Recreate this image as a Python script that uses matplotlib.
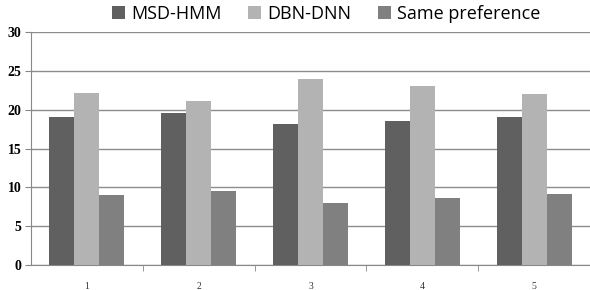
import matplotlib.pyplot as plt
import numpy as np

groups = ['1', '2', '3', '4', '5']
msd_hmm = [19.0, 19.6, 18.1, 18.5, 19.0]
dbn_dnn = [22.1, 21.1, 24.0, 23.0, 22.0]
same_pref = [9.0, 9.5, 8.0, 8.6, 9.2]

fig = plt.figure(figsize=(5.9, 2.9), dpi=100)
ax = fig.add_axes([31 / 590, 25 / 290, 559 / 590, 233 / 290])

x = np.arange(len(groups))
w = 0.224
ax.bar(x - w, msd_hmm, w, color='#606060', label='MSD-HMM', zorder=3)
ax.bar(x, dbn_dnn, w, color='#b3b3b3', label='DBN-DNN', zorder=3)
ax.bar(x + w, same_pref, w, color='#808080', label='Same preference', zorder=3)

ax.set_xlim(-0.5, 4.5)
ax.set_ylim(0, 30)
ax.set_yticks(range(0, 31, 5))
ax.yaxis.grid(True, color='#8c8c8c', linewidth=1, zorder=0)

ax.set_xticks(x)
ax.set_xticklabels(groups, fontsize=7, family='Liberation Serif', color='#333333')
ax.tick_params(axis='x', length=0, pad=12)
ax.set_xticks(np.arange(0.5, 4.5, 1), minor=True)
ax.tick_params(axis='x', which='minor', length=4, color='#888888')
ax.tick_params(axis='y', length=4, color='#888888', pad=3)
for lab in ax.get_yticklabels():
    lab.set_family('Liberation Serif')
    lab.set_fontsize(10)
    lab.set_fontweight('bold')

for s in ['top', 'right']:
    ax.spines[s].set_visible(False)
ax.spines['left'].set_color('#888888')
ax.spines['bottom'].set_color('#888888')

fig.legend(loc='upper center', bbox_to_anchor=(0.553, 1.04), ncol=3, frameon=False,
           prop={'family': 'Open Sans', 'size': 13}, handlelength=0.7, handleheight=0.7,
           handletextpad=0.35, columnspacing=1.5)

plt.savefig('out.png', dpi=100)
